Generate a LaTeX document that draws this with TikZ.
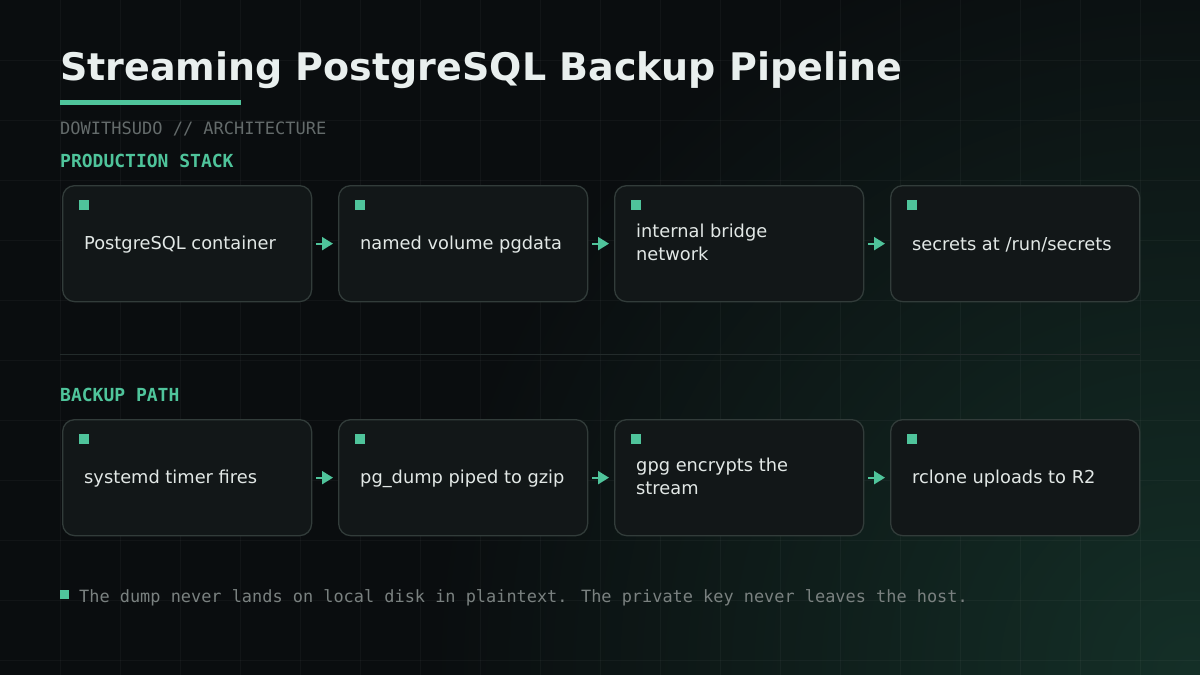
\documentclass[tikz,border=0pt]{standalone}
\usepackage{fontspec}
\setmainfont{DejaVu Sans}
\newfontfamily\monof{DejaVu Sans Mono}
\usetikzlibrary{arrows.meta}
\definecolor{bg}{HTML}{0A0D0F}
\definecolor{accent}{HTML}{4FC49B}
\definecolor{cardfill}{HTML}{121718}
\definecolor{cardline}{HTML}{323C3A}
\definecolor{titlec}{HTML}{E9EFEE}
\definecolor{textc}{HTML}{E2E8E6}
\definecolor{subc}{HTML}{646B6B}
\definecolor{footc}{HTML}{7A8180}
\definecolor{glow}{HTML}{142F27}
\definecolor{divc}{HTML}{232B2B}
\tikzset{
  card/.style={draw=cardline, fill=cardfill, rounded corners=12, line width=1.3,
    minimum width=249, minimum height=116, anchor=north west, inner sep=0},
  dot/.style={fill=accent, minimum width=10, minimum height=10, inner sep=0, anchor=north west},
  txt/.style={anchor=west, text=textc, font=\fontsize{17.8}{23}\selectfont, align=left, inner sep=0},
  sect/.style={anchor=base west, inner sep=0, text=accent, font=\monof\bfseries\fontsize{18}{20}\selectfont},
  flow/.style={draw=accent, line width=2, -{Triangle[length=11,width=13]}, color=accent},
  gridl/.style={white, opacity=0.035, line width=1},
}
\begin{document}
\begin{tikzpicture}[x=1pt,y=-1pt]
\useasboundingbox (0,0) rectangle (1200,675);
\fill[bg] (0,0) rectangle (1200,675);
\begin{scope}
  \clip (0,0) rectangle (1200,675);
  \shade[inner color=glow, outer color=bg] (1190,670) circle (760);
\end{scope}
\foreach \x in {60,120,...,1140} \draw[gridl] (\x,0) -- (\x,675);
\foreach \y in {60,120,...,660} \draw[gridl] (0,\y) -- (1200,\y);

% title
\node[anchor=base west, inner sep=0, text=titlec, font=\bfseries\fontsize{38}{44}\selectfont] (title) at (60,80) {Streaming PostgreSQL Backup Pipeline};
\fill[accent] (60,100) rectangle (241,105);
\node[anchor=base west, inner sep=0, text=subc, font=\monof\fontsize{17}{20}\selectfont] (sub) at (60,134) {DOWITHSUDO // ARCHITECTURE};

% production stack
\node[sect] (s1) at (60,167) {PRODUCTION STACK};
\foreach \i/\t/\dy [count=\k] in {0/{PostgreSQL container}/0,1/{named volume pgdata}/0,2/{internal bridge\\network}/-2.5,3/{secrets at /run/secrets}/0}{
  \node[card] (p\k) at (62+276*\i,185) {};
  \node[dot] (pd\k) at (79+276*\i,200) {};
  \node[txt] (pt\k) at (84+276*\i,245+\dy) {\t};
}
\foreach \a/\b in {1/2,2/3,3/4}
  \draw[flow] ([xshift=4]p\a.east) -- ([xshift=-5]p\b.west);

% divider
\coordinate (dl) at (60,354);
\coordinate (dr) at (1140,354);
\draw[divc, line width=1] (dl) -- (dr);

% backup path
\node[sect] (s2) at (60,401) {BACKUP PATH};
\foreach \i/\t/\dy [count=\k] in {0/{systemd timer fires}/0,1/{pg\_dump piped to gzip}/0,2/{gpg encrypts the\\stream}/-2.5,3/{rclone uploads to R2}/0}{
  \node[card] (b\k) at (62+276*\i,419) {};
  \node[dot] (bd\k) at (79+276*\i,434) {};
  \node[txt] (bt\k) at (84+276*\i,479+\dy) {\t};
}
\foreach \a/\b in {1/2,2/3,3/4}
  \draw[flow] ([xshift=4]b\a.east) -- ([xshift=-5]b\b.west);

% footer
\node[fill=accent, minimum width=9, minimum height=9, inner sep=0, anchor=north west] (fd) at (60,590) {};
\node[anchor=base west, inner sep=0, text=footc, font=\monof\fontsize{16.9}{20}\selectfont] (foot) at (79,602) {The dump never lands on local disk in plaintext. The private key never leaves the host.};
\end{tikzpicture}
\end{document}
